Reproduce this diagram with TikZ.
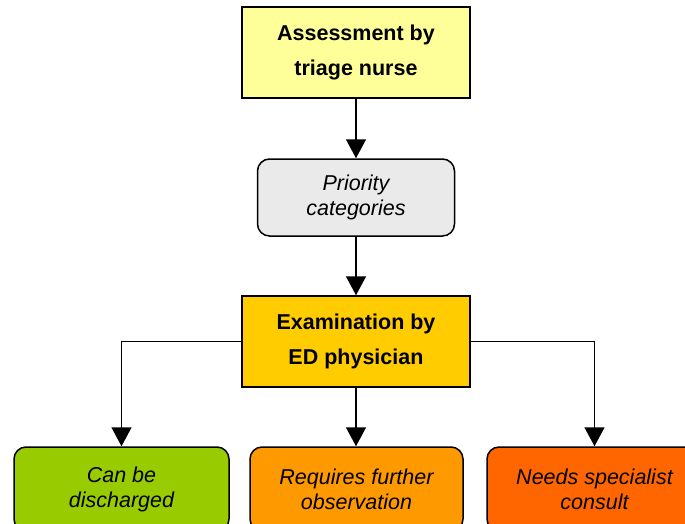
\documentclass[tikz,border=0pt]{standalone}
\usepackage{fontspec}
\setmainfont{Liberation Sans}
\usetikzlibrary{arrows.meta, positioning}
\definecolor{nurse}{HTML}{FFFF99}
\definecolor{prio}{HTML}{EAEAEA}
\definecolor{doctor}{HTML}{FFCC00}
\definecolor{home}{HTML}{99CC00}
\definecolor{observe}{HTML}{FF9900}
\definecolor{consult}{HTML}{FF6600}

\begin{document}
\begin{tikzpicture}[x=1pt, y=-1pt, line width=1.5pt,
            >={Triangle[length=19pt, width=20pt]}]
        \tikzstyle{every node}=[draw, line width=1.5pt, align=center, inner sep=0pt]
        \tikzstyle{sqbox}=[rectangle, minimum width=228pt, minimum height=91pt,
            font=\fontsize{21.5}{35}\selectfont\bfseries]
        \tikzstyle{rdbox}=[rectangle, rounded corners=12pt,
            font=\fontsize{21.5}{25}\selectfont\itshape]
        \useasboundingbox (0,0) rectangle (685,523);
        % main chain
        \node[sqbox, fill=nurse] (assess) at (356,52.5) {Assessment by\\triage nurse};
        \node[rdbox, fill=prio, minimum width=197pt, minimum height=77pt] (priority) at (356,197.5) {Priority\\categories};
        \node[sqbox, fill=doctor] (exam) at (356,341.5) {Examination by\\ED physician};
        % outcomes
        \node[rdbox, fill=home, minimum width=215pt, minimum height=84pt] (discharge) at (121.5,489) {Can be\\discharged};
        \node[rdbox, fill=observe, minimum width=213pt, minimum height=84pt] (further) at (356.5,489) {Requires further\\observation};
        \node[rdbox, fill=consult, minimum width=215pt, minimum height=84pt] (specialist) at (594.5,489) {Needs specialist\\consult};
        % connectors
        \draw[->] (assess) -- (priority);
        \draw[->] (priority) -- (exam);
        \draw[->] (exam.west) -| (discharge.north);
        \draw[->] (exam.south) -- (exam.south |- further.north);
        \draw[->] (exam.east) -| (specialist.north);
    \end{tikzpicture}
\end{document}
